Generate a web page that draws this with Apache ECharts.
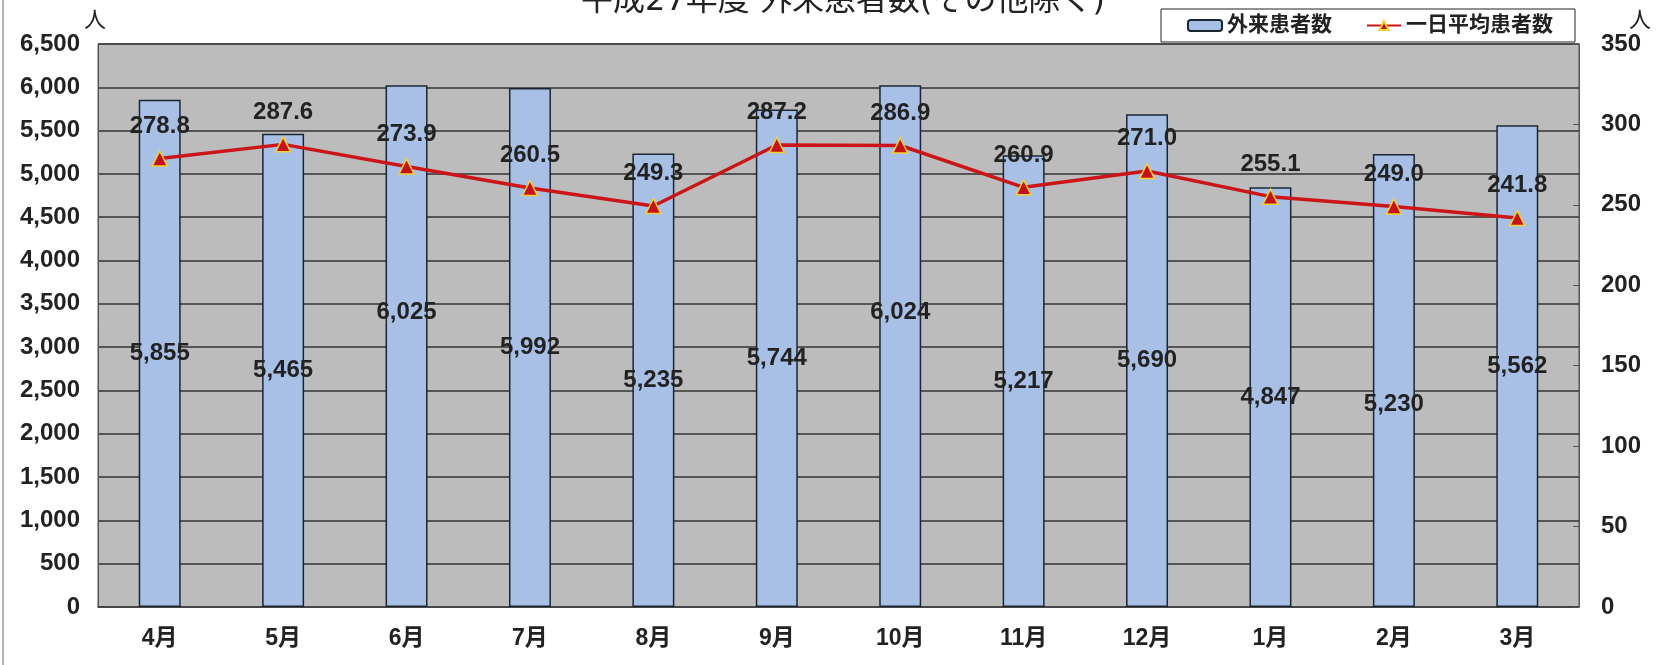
<!DOCTYPE html>
<html>
<head>
<meta charset="utf-8">
<script src="https://cdn.jsdelivr.net/npm/echarts@6/dist/echarts.min.js"></script>
<style>
html, body { margin: 0; padding: 0; background: #fff; }
#main { width: 1663px; height: 665px; }
</style>
</head>
<body>
<div id="main"></div>
<script>
// 平成27年度 外来患者数
var months = ['4月', '5月', '6月', '7月', '8月', '9月', '10月', '11月', '12月', '1月', '2月', '3月'];
var outpatients = [5855, 5465, 6025, 5992, 5235, 5744, 6024, 5217, 5690, 4847, 5230, 5562];
var dailyAvg = [278.8, 287.6, 273.9, 260.5, 249.3, 287.2, 286.9, 260.9, 271.0, 255.1, 249.0, 241.8];
// 棒ラベルの縦ずらし (元の図で手動で動かしてあるもの)
var barLabelShift = [0, 0, -34, 0, 0, 0, -34, 0, 0, 0, 24, 0];

var font = '"Liberation Sans", "Noto Sans CJK JP", sans-serif';
var ink = '#222';
function txt(size) {
    return { fontFamily: font, fontSize: size, fontWeight: 'bold', color: ink };
}
var myChart = echarts.init(document.getElementById('main'));

var barData = outpatients.map(function (v, i) {
    return { value: v, label: { offset: [0, barLabelShift[i]] } };
});

var opt = {
    animation: false,
    graphic: [{
        type: 'line',
        shape: { x1: 3, y1: 0, x2: 3, y2: 665 },
        style: { stroke: '#999', lineWidth: 1.5 }
    }],
    title: {
        text: '平成27年度 外来患者数(その他除く)',
        left: 838,
        textAlign: 'center',
        top: -19,
        textStyle: { fontFamily: '"DejaVu Sans", "Noto Sans CJK JP", sans-serif', fontSize: 32, fontWeight: 'normal', color: ink }
    },
    legend: {
        right: 88,
        top: 9,
        itemGap: 34,
        itemWidth: 34,
        itemHeight: 11,
        padding: [6, 22, 6, 26],
        backgroundColor: '#fff',
        borderColor: ink,
        borderWidth: 1,
        textStyle: { fontFamily: font, fontSize: 21, fontWeight: 'bold', color: ink },
        data: ['外来患者数', '一日平均患者数']
    },
    grid: {
        left: 98, right: 84, top: 44, bottom: 58,
        show: true,
        backgroundColor: '#bcbcbc',
        borderColor: '#555',
        borderWidth: 1
    },
    xAxis: {
        type: 'category',
        data: months,
        axisLine: { lineStyle: { color: '#444', width: 1.5 } },
        axisTick: { inside: true, length: 6, lineStyle: { color: '#444' } },
        axisLabel: Object.assign({ margin: 20 }, txt(23))
    },
    yAxis: [{
        type: 'value',
        min: 0, max: 6500, interval: 500,
        name: '人',
        nameGap: 9,
        nameTextStyle: { fontFamily: font, fontSize: 22, color: ink, align: 'right', padding: [0, -8, 0, 0] },
        axisLine: { show: true, lineStyle: { color: '#555' } },
        axisTick: { show: false },
        splitLine: { lineStyle: { color: '#333', width: 1.5 } },
        axisLabel: Object.assign({
            margin: 18,
            formatter: function (v) { return v.toLocaleString('en-US'); }
        }, txt(24))
    }, {
        type: 'value',
        min: 0, max: 350, interval: 50,
        name: '人',
        nameGap: 9,
        nameTextStyle: { fontFamily: font, fontSize: 22, color: ink, align: 'left', padding: [0, 0, 0, 50] },
        axisLine: { show: true, lineStyle: { color: '#555' } },
        axisTick: { show: true, inside: true, length: 6, lineStyle: { color: '#555' } },
        splitLine: { show: false },
        axisLabel: Object.assign({ margin: 22 }, txt(24))
    }],
    series: [{
        name: '外来患者数',
        type: 'bar',
        barWidth: '34%',
        data: barData,
        itemStyle: { color: '#a8c0e6', borderColor: '#1b2633', borderWidth: 1.5 },
        label: Object.assign({
            show: true,
            position: 'inside',
            formatter: function (p) { return p.value.toLocaleString('en-US'); }
        }, txt(24))
    }, {
        name: '一日平均患者数',
        type: 'line',
        yAxisIndex: 1,
        data: dailyAvg,
        symbol: 'triangle',
        symbolSize: 15,
        lineStyle: { color: '#cc1518', width: 3.5 },
        itemStyle: { color: '#c8101a', borderColor: '#f2d230', borderWidth: 1.5 },
        label: Object.assign({
            show: true,
            position: 'top',
            distance: 12,
            formatter: function (p) { return p.value.toFixed(1); }
        }, txt(24))
    }]
};
myChart.setOption(opt);
</script>
</body>
</html>
